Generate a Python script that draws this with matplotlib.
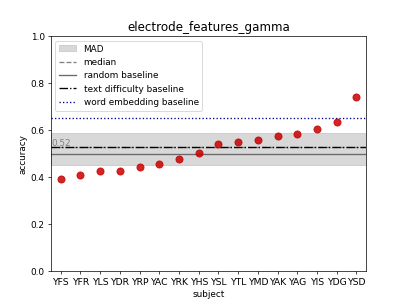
import matplotlib
matplotlib.use("Agg")
import matplotlib.pyplot as plt
import numpy as np

subjects = ["YFS", "YFR", "YLS", "YDR", "YRP", "YAC", "YRK", "YHS",
            "YSL", "YTL", "YMD", "YAK", "YAG", "YIS", "YDG", "YSD"]
accuracy = [0.393, 0.412, 0.429, 0.429, 0.446, 0.458, 0.479, 0.502,
            0.540, 0.550, 0.558, 0.575, 0.584, 0.605, 0.635, 0.742]

median_acc = 0.528
mad_low, mad_high = 0.454, 0.588
random_baseline = 0.5
text_difficulty_baseline = 0.531
word_embedding_baseline = 0.654

fig = plt.figure(figsize=(6.4, 4.8), dpi=407 / 6.4)
ax = fig.add_subplot(111)

x = np.arange(len(subjects))
ax.axhspan(mad_low, mad_high, color='grey', alpha=0.3, label='MAD')
ax.axhline(median_acc, color='grey', linestyle='--', label='median')
ax.axhline(random_baseline, color='dimgrey', linestyle='-', label='random baseline')
ax.axhline(text_difficulty_baseline, color='black', linestyle='-.',
           label='text difficulty baseline')
ax.axhline(word_embedding_baseline, color='darkblue', linestyle=':',
           label='word embedding baseline')
ax.text(-0.5, median_acc, '%.2f' % 0.52, color='grey', va='bottom', ha='left')

ax.scatter(x, accuracy, color='#c80000', alpha=0.85, s=65, zorder=3)

ax.set_xticks(x)
ax.set_xticklabels(subjects, fontsize=10.5)
ax.set_xlim(-0.5, 15.5)
ax.set_ylim(0, 1.0)
ax.set_xlabel('subject')
ax.set_ylabel('accuracy')
ax.set_title('electrode_features_gamma', fontsize=13.5)
ax.legend(loc='upper left')

fig.savefig('out.png')
